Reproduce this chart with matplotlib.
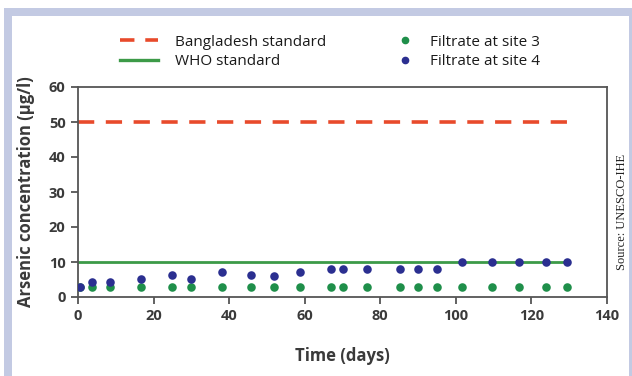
import matplotlib
matplotlib.use("Agg")
import matplotlib.pyplot as plt
from matplotlib.lines import Line2D
from matplotlib.patches import Rectangle

# Data
days_site3 = [0.5, 3.6, 8.5, 16.7, 24.8, 29.9, 38, 45.8, 51.8, 58.7, 67, 70.1,
              76.4, 85.2, 90, 95.1, 101.7, 109.5, 116.7, 123.8, 129.5]
site3 = [3.0, 3.0, 3.0, 3.0, 3.0, 3.0, 3.0, 3.0, 3.0, 3.0, 3.0, 3.0,
         3.0, 3.0, 3.0, 3.0, 3.0, 3.0, 3.0, 3.0, 3.0]
days_site4 = [0.5, 3.6, 8.5, 16.7, 24.8, 29.9, 38, 45.8, 51.8, 58.7, 67, 70.1,
              76.4, 85.2, 90, 95.1, 101.7, 109.5, 116.7, 123.8, 129.5]
site4 = [3.0, 4.3, 4.3, 5.1, 6.2, 5.1, 7.1, 6.2, 6.0, 7.1, 7.9, 7.9,
         7.9, 7.9, 7.9, 7.9, 10.0, 10.0, 10.0, 10.0, 10.0]
bangladesh_std = 50
who_std = 10
std_x = [0, 130]
x_ticks = [0, 20, 40, 60, 80, 100, 120, 140]
y_ticks = [0, 10, 20, 30, 40, 50, 60]

FONT = ['Open Sans', 'DejaVu Sans']
plt.rcParams['font.family'] = FONT

RED = '#e84a2b'
GREEN_LINE = '#3c9a48'
GREEN = '#1f8f4a'
BLUE = '#2b2f90'
LAV = '#c3cae3'
TXT = '#3a3a3a'

fig = plt.figure(figsize=(6.32, 3.76), dpi=100)
W, H = 632, 376
# frame
fig.patches.append(Rectangle((4 / W, 0), 628 / W, (H - 8) / H, transform=fig.transFigure,
                             facecolor=LAV, edgecolor='none', zorder=-2))
fig.patches.append(Rectangle((12 / W, 0), (629 - 12) / W, (H - 16) / H, transform=fig.transFigure,
                             facecolor='white', edgecolor='none', zorder=-1))

ax = fig.add_axes([78 / W, 79 / H, 529 / W, 210 / H])
ax.set_zorder(2)
ax.set_facecolor('none')

ax.plot(std_x, [bangladesh_std] * 2, color=RED, lw=2.6, linestyle=(0, (4.5, 3.2)), zorder=2)
ax.plot(std_x, [who_std] * 2, color=GREEN_LINE, lw=2.0, zorder=2)
ax.scatter(days_site3, site3, s=38, color=GREEN, zorder=3, linewidths=0)
ax.scatter(days_site4, site4, s=38, color=BLUE, zorder=4, linewidths=0)

ax.set_xlim(0, 140)
ax.set_ylim(0, 60)
ax.set_xticks(x_ticks)
ax.set_yticks(y_ticks)
for s in ax.spines.values():
    s.set_color('#555555')
    s.set_linewidth(1.3)
ax.tick_params(direction='out', length=5, width=1.3, color='#555555',
               labelsize=10.5, labelcolor=TXT, pad=4)
for lab in ax.get_xticklabels() + ax.get_yticklabels():
    lab.set_fontweight('bold')

ax.set_xlabel('Time (days)', fontsize=12, fontweight='bold', color=TXT, labelpad=17)
ax.set_ylabel('Arsenic concentration (µg/l)', fontsize=12, fontweight='bold', color=TXT, labelpad=10)

line_handles = [
    Line2D([], [], color=RED, lw=2.6, linestyle=(0, (4, 3))),
    Line2D([], [], color=GREEN_LINE, lw=2.4),
]
dot_handles = [
    Line2D([], [], marker='o', color=GREEN, linestyle='none', markersize=4.5),
    Line2D([], [], marker='o', color=BLUE, linestyle='none', markersize=4.5),
]
leg1 = fig.legend(line_handles, ['Bangladesh standard', 'WHO standard'], loc='center left',
                  bbox_to_anchor=(120 / W, 1 - 52 / H), frameon=False, fontsize=11,
                  handlelength=2.5, handletextpad=1.1, labelspacing=0.3,
                  borderpad=0, borderaxespad=0)
leg2 = fig.legend(dot_handles, ['Filtrate at site 3', 'Filtrate at site 4'], loc='center left',
                  bbox_to_anchor=(397.5 / W, 1 - 52 / H), frameon=False, fontsize=11,
                  handlelength=1.0, handletextpad=1.15, labelspacing=0.3,
                  borderpad=0, borderaxespad=0)
for leg in (leg1, leg2):
    for t in leg.get_texts():
        t.set_color('#1a1a1a')

fig.text(622 / W, 1 - 212 / H, 'Source: UNESCO-IHE', rotation=90, ha='center', va='center',
         fontsize=9, family=['Liberation Serif', 'DejaVu Serif'], color='#222222')

fig.savefig('out.png', dpi=100)
